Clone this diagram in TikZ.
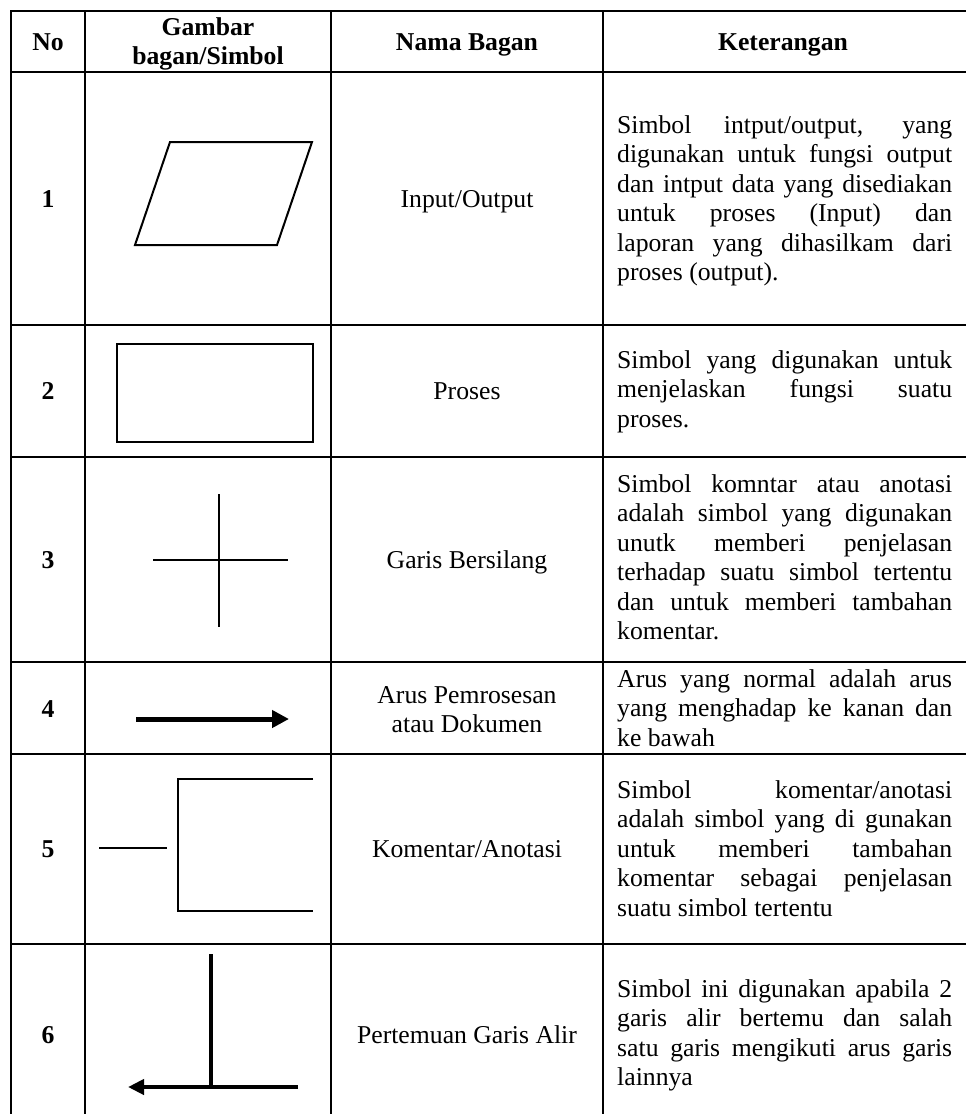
\documentclass[tikz,border=0pt]{standalone}
\usepackage{fontspec}
\setmainfont{Liberation Serif}
\usetikzlibrary{arrows.meta}
\newcommand\kl[1]{\hbox to 335pt{\strut #1}}
\newcommand\kll[1]{\hbox{\strut #1}}
\newcommand\cln[2]{\hbox to #1{\hfil\strut #2\hfil}}
\tikzset{
  grid/.style={line width=2.2pt, line cap=rect},
  txt/.style={inner sep=0pt, font=\fontsize{25.7}{29.5}\selectfont},
  hdr/.style={inner sep=0pt, font=\fontsize{25.7}{29.5}\selectfont\bfseries, anchor=base},
  num/.style={inner sep=0pt, font=\fontsize{25.7}{29.5}\selectfont\bfseries, anchor=base},
  nama/.style={txt, anchor=base},
  ket/.style={txt, anchor=base west},
  sym/.style={line width=2pt, line join=miter},
  thin/.style={line width=1.2pt},
}
\begin{document}
\begin{tikzpicture}[x=1pt, y=-1pt]
\useasboundingbox (0,0) rectangle (966,1114);
% table grid
\foreach \yy in {11,72,325,457,662,754,944} \draw[grid] (11,\yy) -- (966,\yy);
\foreach \xx in {11,85,331,603} \draw[grid] (\xx,11) -- (\xx,1114);
% header
\node[hdr] (hno) at (48,50) {No};
\node[hdr] (hgb) at (208,35) {\vtop{\cln{240pt}{Gambar}\cln{240pt}{bagan/Simbol}}};
\node[hdr] (hnb) at (467,50) {Nama Bagan};
\node[hdr] (hket) at (783,50) {Keterangan};
% numbers
\node[num] (n1) at (48,207) {1};
\node[num] (n2) at (48,399) {2};
\node[num] (n3) at (48,568) {3};
\node[num] (n4) at (48,717) {4};
\node[num] (n5) at (48,857) {5};
\node[num] (n6) at (48,1043) {6};
% names
\node[nama] (m1) at (467,207) {Input/Output};
\node[nama] (m2) at (467,399) {Proses};
\node[nama] (m3) at (467,568) {Garis Bersilang};
\node[nama] (m4) at (467,703) {\vtop{\cln{260pt}{Arus Pemrosesan}\cln{260pt}{atau Dokumen}}};
\node[nama] (m5) at (467,857) {Komentar/Anotasi};
\node[nama] (m6) at (467,1043) {Pertemuan Garis Alir};
% keterangan
\node[ket] (k1) at (617,133) {\vtop{\kl{Simbol intput/output, yang}\kl{digunakan untuk fungsi output}\kl{dan intput data yang disediakan}\kl{untuk proses (Input) dan}\kl{laporan yang dihasilkam dari}\kll{proses (output).}}};
\node[ket] (k2) at (617,368) {\vtop{\kl{Simbol yang digunakan untuk}\kl{menjelaskan fungsi suatu}\kll{proses.}}};
\node[ket] (k3) at (617,492) {\vtop{\kl{Simbol komntar atau anotasi}\kl{adalah simbol yang digunakan}\kl{unutk memberi penjelasan}\kl{terhadap suatu simbol tertentu}\kl{dan untuk memberi tambahan}\kll{komentar.}}};
\node[ket] (k4) at (617,687) {\vtop{\kl{Arus yang normal adalah arus}\kl{yang menghadap ke kanan dan}\kll{ke bawah}}};
\node[ket] (k5) at (617,798) {\vtop{\kl{Simbol komentar/anotasi}\kl{adalah simbol yang di gunakan}\kl{untuk memberi tambahan}\kl{komentar sebagai penjelasan}\kll{suatu simbol tertentu}}};
\node[ket] (k6) at (617,997) {\vtop{\kl{Simbol ini digunakan apabila 2}\kl{garis alir bertemu dan salah}\kl{satu garis mengikuti arus garis}\kll{lainnya}}};
% symbol 1: parallelogram
\draw[sym] (170,142) -- (312,142) -- (277,245) -- (135,245) -- cycle;
% symbol 2: rectangle
\draw[sym, line width=2.5pt] (117,344) rectangle (313,442);
% symbol 3: cross
\draw[thin] (219,494) -- (219,627);
\draw[thin] (153,560) -- (288,560);
% symbol 4: arrow
\coordinate (a4s) at (136,719);
\coordinate (a4e) at (289,719);
\draw[line width=5pt, -{Triangle[length=17pt,width=17pt]}] (a4s) -- (a4e);
% symbol 5: annotation
\draw[thin] (313,779) -- (178,779) -- (178,911) -- (313,911);
\draw[thin] (99,848) -- (167,848);
% symbol 6: junction
\coordinate (a6t) at (211,954);
\coordinate (a6j) at (211,1087);
\coordinate (a6r) at (298,1087);
\coordinate (a6l) at (128,1087);
\draw[line width=3.5pt] (a6t) -- (a6j);
\draw[line width=4pt, -{Triangle[length=16pt,width=15pt]}] (a6r) -- (a6l);
\end{tikzpicture}
\end{document}
